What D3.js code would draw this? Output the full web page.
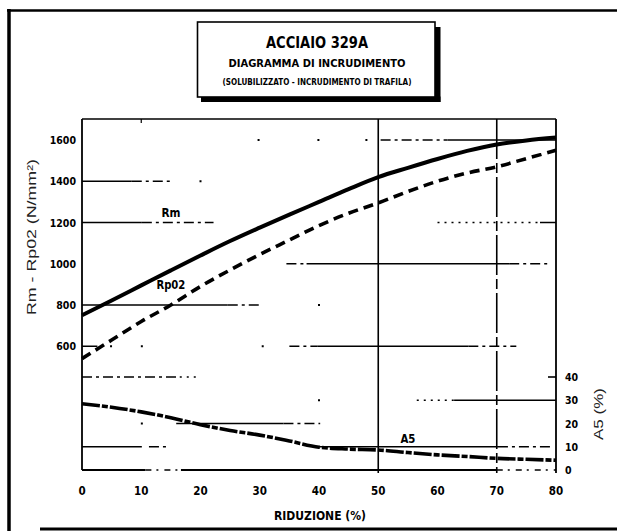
<!DOCTYPE html>
<html><head><meta charset="utf-8">
<script src="https://cdn.jsdelivr.net/npm/d3@7"></script>
<style>body{margin:0;background:#fff}svg{display:block}</style>
</head><body><svg id="c" width="617" height="531"></svg>
<script>
// ---------- data ----------
const reduction = [0,5,10,15,20,25,30,35,40,45,50,55,60,65,70,75,80];
const rm   = [750,822,895,968,1040,1110,1175,1238,1300,1362,1420,1465,1508,1547,1578,1598,1612];
const rp02 = [540,630,720,800,890,970,1045,1115,1185,1245,1295,1350,1400,1440,1470,1510,1550];
const a5   = [28.5,27,25,22.5,19.5,17,15,12.5,9.8,9,8.6,7.5,6.5,5.8,5,4.6,4.2];
const xTicks = [0,10,20,30,40,50,60,70,80];
const leftTicks = [600,800,1000,1200,1400,1600];
const rightTicks = [0,10,20,30,40];
const verticalGrid = [50,70];
// gridline spans as seen on the (scanned) reference, in data units
const gridSolid = [
  {axis:"L",v:1600,x0:61.7,x1:80},{axis:"L",v:1400,x0:0,x1:8.4},
  {axis:"L",v:1200,x0:0,x1:10.1},{axis:"L",v:1200,x0:77.3,x1:80},
  {axis:"L",v:1000,x0:37.9,x1:72.1},{axis:"L",v:800,x0:0,x1:24.6},
  {axis:"L",v:600,x0:0,x1:2.6},{axis:"L",v:600,x0:39.7,x1:65.2},
  {axis:"R",v:30,x0:62.8,x1:80},{axis:"R",v:20,x0:15.9,x1:34},
  {axis:"R",v:10,x0:0,x1:10.1},{axis:"R",v:10,x0:39.1,x1:70.2}
];
const gridDashed = [
  {axis:"L",v:1600,x0:50.4,x1:61.7},{axis:"L",v:1400,x0:8.4,x1:15.3},
  {axis:"L",v:1200,x0:10.1,x1:22.2},{axis:"L",v:1000,x0:34.5,x1:37.9},
  {axis:"L",v:1000,x0:72.1,x1:79.1},{axis:"L",v:800,x0:24.6,x1:30.4},
  {axis:"L",v:600,x0:35,x1:39.7},{axis:"L",v:600,x0:65.2,x1:73.3},
  {axis:"R",v:40,x0:0,x1:16.5},{axis:"R",v:20,x0:34,x1:40.2},
  {axis:"R",v:10,x0:11.3,x1:14.5},{axis:"R",v:10,x0:70.2,x1:79.1}
];
const gridDotted = [
  {axis:"L",v:1200,x0:60,x1:77.3},{axis:"R",v:30,x0:56.5,x1:62.8},
  {axis:"R",v:40,x0:16.5,x1:20}
];
const gridDots = [
  {axis:"L",v:1600,x:29.8},{axis:"L",v:1600,x:39.9},{axis:"L",v:1600,x:48},
  {axis:"L",v:1400,x:20},{axis:"L",v:800,x:40},
  {axis:"L",v:600,x:4.9},{axis:"L",v:600,x:10.1},{axis:"L",v:600,x:30.5},
  {axis:"R",v:30,x:40},{axis:"R",v:20,x:10.1}
];
const baseSolid = [[0,10.7],[16.7,70]];
const baseDashed = [[10.7,16.7],[70,80]];
const titleLines = ["ACCIAIO 329A","DIAGRAMMA DI INCRUDIMENTO","(SOLUBILIZZATO - INCRUDIMENTO DI TRAFILA)"];

// ---------- layout ----------
const svg = d3.select("#c");
const L = 82, R = 556, T = 119, B = 470;
const x = d3.scaleLinear().domain([0,80]).range([L,R]);
const yL = d3.scaleLinear().domain([0,1600]).range([B,140]);
const yR = d3.scaleLinear().domain([0,40]).range([B,377]);
const ys = a => a === "L" ? yL : yR;
const NARROW = "'Liberation Sans Narrow','DejaVu Sans Condensed','Liberation Sans',sans-serif";

// outer frame
svg.append("line").attr("x1",9).attr("x2",9).attr("y1",9).attr("y2",531).attr("stroke","#000").attr("stroke-width",3.5);
svg.append("line").attr("x1",7).attr("x2",617).attr("y1",10.5).attr("y2",10.5).attr("stroke","#000").attr("stroke-width",2.5);
svg.append("line").attr("x1",40).attr("x2",617).attr("y1",529).attr("y2",529).attr("stroke","#000").attr("stroke-width",3);

// title box with shadow
svg.append("rect").attr("x",435).attr("y",27).attr("width",5.5).attr("height",75).attr("fill","#000");
svg.append("rect").attr("x",201).attr("y",96.5).attr("width",239.5).attr("height",5.5).attr("fill","#000");
svg.append("rect").attr("x",197.5).attr("y",22).attr("width",237.5).attr("height",75)
  .attr("fill","#fff").attr("stroke","#000").attr("stroke-width",1.6);
const tl = [{s:16,y:48,w:102},{s:10.5,y:67,w:177},{s:9,y:85,w:189}];
svg.selectAll("text.title").data(titleLines).join("text").attr("class","title")
  .attr("x",317).attr("y",(d,i)=>tl[i].y).attr("text-anchor","middle")
  .attr("font-family",NARROW).attr("font-weight","bold").attr("font-size",(d,i)=>tl[i].s)
  .attr("textLength",(d,i)=>tl[i].w).attr("lengthAdjust","spacingAndGlyphs").text(d=>d);

// plot frame
const g = svg.append("g");
g.append("line").attr("x1",L).attr("x2",R).attr("y1",T).attr("y2",T).attr("stroke","#000").attr("stroke-width",1.6);
g.append("line").attr("x1",L).attr("x2",L).attr("y1",T).attr("y2",B).attr("stroke","#000").attr("stroke-width",1.8);
g.append("line").attr("x1",R).attr("x2",R).attr("y1",T).attr("y2",B+3).attr("stroke","#000").attr("stroke-width",1.8);
g.append("line").attr("x1",x(10)).attr("x2",x(10)).attr("y1",T).attr("y2",T+4).attr("stroke","#000").attr("stroke-width",1.2);

// baseline (x axis line)
g.selectAll("line.bs").data(baseSolid).join("line").attr("class","bs")
  .attr("x1",d=>x(d[0])).attr("x2",d=>x(d[1])).attr("y1",B).attr("y2",B).attr("stroke","#000").attr("stroke-width",1.8);
g.selectAll("line.bd").data(baseDashed).join("line").attr("class","bd")
  .attr("x1",d=>x(d[0])).attr("x2",d=>x(d[1])).attr("y1",B).attr("y2",B).attr("stroke","#000").attr("stroke-width",1.6)
  .attr("stroke-dasharray","6,5,2,6");

// vertical grid
g.selectAll("line.vg").data(verticalGrid).join("line").attr("class","vg")
  .attr("x1",d=>x(d)).attr("x2",d=>x(d)).attr("y1",T).attr("y2",B+3)
  .attr("stroke","#000").attr("stroke-width",1.6)
  .attr("stroke-dasharray",d=>d===70?"40,4,10,4":null);

// horizontal grid
g.selectAll("line.gs").data(gridSolid).join("line").attr("class","gs")
  .attr("x1",d=>x(d.x0)).attr("x2",d=>x(d.x1)).attr("y1",d=>ys(d.axis)(d.v)).attr("y2",d=>ys(d.axis)(d.v))
  .attr("stroke","#000").attr("stroke-width",1.5);
g.selectAll("line.gd").data(gridDashed).join("line").attr("class","gd")
  .attr("x1",d=>x(d.x0)).attr("x2",d=>x(d.x1)).attr("y1",d=>ys(d.axis)(d.v)).attr("y2",d=>ys(d.axis)(d.v))
  .attr("stroke","#000").attr("stroke-width",1.5).attr("stroke-dasharray","10,4,3,4");
g.selectAll("line.gt").data(gridDotted).join("line").attr("class","gt")
  .attr("x1",d=>x(d.x0)).attr("x2",d=>x(d.x1)).attr("y1",d=>ys(d.axis)(d.v)).attr("y2",d=>ys(d.axis)(d.v))
  .attr("stroke","#000").attr("stroke-width",1.5).attr("stroke-dasharray","2,5");
g.selectAll("rect.dot").data(gridDots).join("rect").attr("class","dot")
  .attr("x",d=>x(d.x)-1).attr("y",d=>ys(d.axis)(d.v)-1).attr("width",2).attr("height",2).attr("fill","#000");

// right axis tick at 40
g.append("line").attr("x1",R-8).attr("x2",R).attr("y1",yR(40)).attr("y2",yR(40)).attr("stroke","#000").attr("stroke-width",1.6);

// curves
const line = (arr, s) => d3.line().x((d,i)=>x(reduction[i])).y(d=>s(d)).curve(d3.curveMonotoneX)(arr);
g.append("path").attr("d",line(rm,yL)).attr("fill","none").attr("stroke","#000").attr("stroke-width",4);
g.append("path").attr("d",line(rp02,yL)).attr("fill","none").attr("stroke","#000").attr("stroke-width",3.6).attr("stroke-dasharray","10,6");
g.append("path").attr("d",line(a5,yR)).attr("fill","none").attr("stroke","#000").attr("stroke-width",3.6).attr("stroke-dasharray","18,2,6,2");

// tick labels
g.selectAll("text.xt").data(xTicks).join("text").attr("class","xt")
  .attr("x",d=>x(d)).attr("y",495).attr("text-anchor","middle")
  .attr("font-family",NARROW).attr("font-weight","bold").attr("font-size",11.5).text(d=>d);
g.selectAll("text.yl").data(leftTicks).join("text").attr("class","yl")
  .attr("x",L-6).attr("y",d=>yL(d)+4).attr("text-anchor","end")
  .attr("font-family",NARROW).attr("font-weight","bold").attr("font-size",10.5).text(d=>d);
g.selectAll("text.yr").data(rightTicks).join("text").attr("class","yr")
  .attr("x",R+9).attr("y",d=>yR(d)+4).attr("text-anchor","start")
  .attr("font-family",NARROW).attr("font-weight","bold").attr("font-size",10.5).text(d=>d);

// axis titles
svg.append("text").attr("transform","translate(36,237) rotate(-90)").attr("text-anchor","middle")
  .attr("font-family","'Liberation Sans',Arial,sans-serif").attr("font-size",13).attr("fill","#222")
  .attr("textLength",156).attr("lengthAdjust","spacingAndGlyphs").text("Rm - Rp02 (N/mm²)");
svg.append("text").attr("transform","translate(603,414) rotate(-90)").attr("text-anchor","middle")
  .attr("font-family","'Liberation Sans',Arial,sans-serif").attr("font-size",12).attr("fill","#222")
  .attr("textLength",52).attr("lengthAdjust","spacingAndGlyphs").text("A5 (%)");
svg.append("text").attr("x",320).attr("y",520).attr("text-anchor","middle")
  .attr("font-family",NARROW).attr("font-weight","bold").attr("font-size",13)
  .attr("textLength",92).attr("lengthAdjust","spacingAndGlyphs").text("RIDUZIONE (%)");

// curve labels
const lab = (t,xv,yv,w) => g.append("text").attr("x",xv).attr("y",yv).attr("text-anchor","middle")
  .attr("font-family",NARROW).attr("font-weight","bold").attr("font-size",13)
  .attr("textLength",w).attr("lengthAdjust","spacingAndGlyphs").text(t);
lab("Rm", x(15), yL(1200)-6, 19);
lab("Rp02", x(15), yL(880), 29);
lab("A5", x(55), yR(11.6), 15);
</script></body></html>
